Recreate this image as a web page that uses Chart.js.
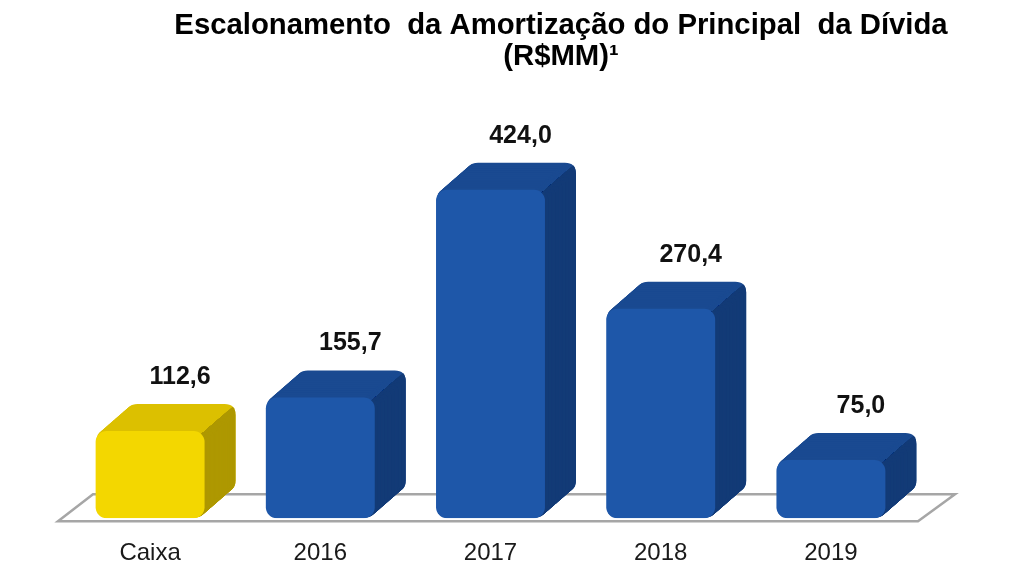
<!DOCTYPE html>
<html>
<head>
<meta charset="utf-8">
<script src="https://cdn.jsdelivr.net/npm/chart.js@4.4.1/dist/chart.umd.min.js"></script>
<style>
  html, body { margin: 0; padding: 0; background: #fff; }
  #wrap { width: 1017px; height: 586px; }
</style>
</head>
<body>
<div id="wrap"><canvas id="chart" width="1017" height="586"></canvas></div>
<script>
const categories = ['Caixa', '2016', '2017', '2018', '2019'];
const amounts = [112.6, 155.7, 424.0, 270.4, 75.0];
const titleLines = ['Escalonamento  da Amortização do Principal  da Dívida', '(R$MM)¹'];

// colours: front / top / side for each kind of bar
const yellow = { front: '#F3D700', top: '#DCC000', side: '#AE9800' };
const blue = { front: '#1E57A9', top: '#1A4A91', side: '#133B77' };
const shades = categories.map((c, i) => i === 0 ? yellow : blue);

const depthX = 31, depthY = -27, radius = 11;

function roundRectPath(ctx, x, y, w, h, r) {
    ctx.beginPath();
    ctx.moveTo(x + r, y);
    ctx.lineTo(x + w - r, y);
    ctx.quadraticCurveTo(x + w, y, x + w, y + r);
    ctx.lineTo(x + w, y + h - r);
    ctx.quadraticCurveTo(x + w, y + h, x + w - r, y + h);
    ctx.lineTo(x + r, y + h);
    ctx.quadraticCurveTo(x, y + h, x, y + h - r);
    ctx.lineTo(x, y + r);
    ctx.quadraticCurveTo(x, y, x + r, y);
    ctx.closePath();
}

// draws the floor and the top/side faces behind the front faces
const boxPlugin = {
    id: 'box3d',
    beforeDatasetsDraw(chart) {
        const ctx = chart.ctx;
        const xs = chart.scales.x;
        const ys = chart.scales.y;
        const floorY = ys.getPixelForValue(0) + 3;
        const fl = xs.left - 7, fr = xs.right + 2;

        ctx.save();
        ctx.beginPath();
        ctx.moveTo(fl, floorY);
        ctx.lineTo(fr, floorY);
        ctx.lineTo(fr + depthX + 6, floorY + depthY);
        ctx.lineTo(fl + depthX + 4, floorY + depthY);
        ctx.closePath();
        ctx.fillStyle = '#ffffff';
        ctx.fill();
        ctx.strokeStyle = '#A6A6A6';
        ctx.lineWidth = 2.5;
        ctx.stroke();
        ctx.restore();

        const meta = chart.getDatasetMeta(0);
        meta.data.forEach((bar, i) => {
            const p = bar.getProps(['x', 'y', 'base', 'width'], true);
            const left = p.x - p.width / 2, w = p.width;
            const top = p.y, h = p.base - p.y;
            const steps = 40;

            // extrusion in top colour
            ctx.save();
            ctx.fillStyle = shades[i].top;
            for (let s = steps; s >= 1; s--) {
                roundRectPath(ctx, left + depthX * s / steps, top + depthY * s / steps, w, h, radius);
                ctx.fill();
            }
            ctx.restore();

            // side region in side colour
            const cx = left + w - 3, cy = top + 3;
            ctx.save();
            ctx.beginPath();
            ctx.moveTo(cx - depthX, cy - depthY);
            ctx.lineTo(cx + depthX * 2, cy + depthY * 2);
            ctx.lineTo(cx + depthX * 2 + 80, cy + depthY * 2);
            ctx.lineTo(cx + depthX * 2 + 80, p.base + 80);
            ctx.lineTo(cx - depthX, p.base + 80);
            ctx.closePath();
            ctx.clip();
            ctx.fillStyle = shades[i].side;
            for (let s = steps; s >= 1; s--) {
                roundRectPath(ctx, left + depthX * s / steps, top + depthY * s / steps, w, h, radius);
                ctx.fill();
            }
            ctx.restore();
        });
    },
    afterDatasetsDraw(chart) {
        const ctx = chart.ctx;
        const meta = chart.getDatasetMeta(0);
        ctx.save();
        ctx.font = 'bold 25px "Liberation Sans", Arial, sans-serif';
        ctx.fillStyle = '#111';
        ctx.textAlign = 'center';
        ctx.textBaseline = 'middle';
        meta.data.forEach((bar, i) => {
            const label = amounts[i].toFixed(1).replace('.', ',');
            ctx.fillText(label, bar.x + 30, bar.y - 54);
        });

        // title
        ctx.font = 'bold 29.3px "Liberation Sans", Arial, sans-serif';
        ctx.fillStyle = '#000';
        ctx.fillText(titleLines[0], 561, 26);
        ctx.fillText(titleLines[1], 561, 57);
        ctx.restore();
    }
};

new Chart(document.getElementById('chart'), {
    type: 'bar',
    data: {
        labels: categories,
        datasets: [{
            data: amounts,
            backgroundColor: shades.map(s => s.front),
            borderRadius: radius,
            borderSkipped: false,
            barPercentage: 0.8,
            categoryPercentage: 0.8
        }]
    },
    options: {
        responsive: false,
        animation: false,
        layout: {
            padding: { left: 65, right: 101, top: 96, bottom: 5 }
        },
        plugins: {
            legend: { display: false },
            tooltip: { enabled: false },
            title: { display: false }
        },
        scales: {
            x: {
                grid: { display: false },
                border: { display: false },
                ticks: {
                    color: '#1a1a1a',
                    padding: 13,
                    font: { size: 24, family: '"Liberation Sans", Arial, sans-serif' }
                }
            },
            y: {
                display: false,
                min: 0,
                max: 545
            }
        }
    },
    plugins: [boxPlugin]
});
</script>
</body>
</html>
